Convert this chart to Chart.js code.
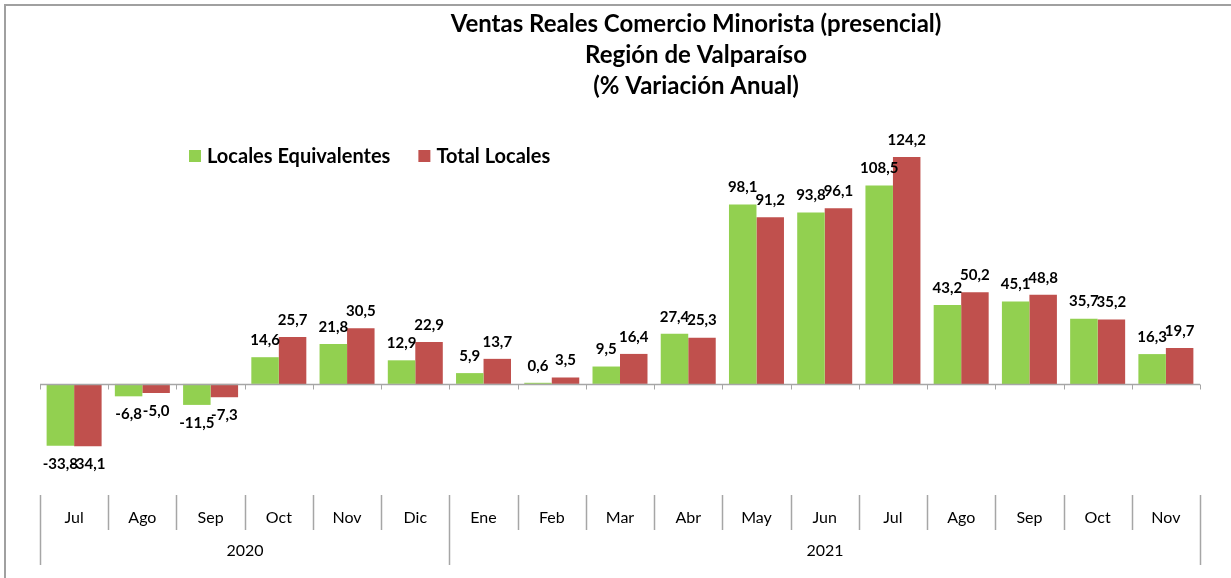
<!DOCTYPE html>
<html><head><meta charset="utf-8">
<script src="https://cdn.jsdelivr.net/npm/chart.js@4.4.0/dist/chart.umd.min.js"></script>
<style>html,body{margin:0;padding:0;background:#fff}#wrap{width:1231px;height:578px;position:relative}</style>
</head><body><div id="wrap"><canvas id="c" width="1231" height="578"></canvas></div>
<script>
const months = ['Jul','Ago','Sep','Oct','Nov','Dic','Ene','Feb','Mar','Abr','May','Jun','Jul','Ago','Sep','Oct','Nov'];
const yearLabels = ['2020','2021'];
const yearCounts = [6, 11];
const seriesNames = ['Locales Equivalentes','Total Locales'];
const equivalentes = [-33.8,-6.8,-11.5,14.6,21.8,12.9,5.9,0.6,9.5,27.4,98.1,93.8,108.5,43.2,45.1,35.7,16.3];
const totales = [-34.1,-5.0,-7.3,25.7,30.5,22.9,13.7,3.5,16.4,25.3,91.2,96.1,124.2,50.2,48.8,35.2,19.7];
const titleLines = ['Ventas Reales Comercio Minorista (presencial)','Región de Valparaíso','(% Variación Anual)'];
const colors = ['#92D050','#C0504D'];

const FONT = 'Lato, "Open Sans", sans-serif';
const GRAY = '#A6A6A6';

function fmt(v){ return v.toFixed(1).replace('.',','); }

const decor = {
  id:'decor',
  afterDatasetsDraw(chart){
    const ctx = chart.ctx, x = chart.scales.x, y = chart.scales.y;
    const area = chart.chartArea;
    const y0 = Math.round(y.getPixelForValue(0)) + 0.5;
    const n = months.length;
    const step = (area.right - area.left) / n;
    const bx = i => Math.round(area.left + i*step) + 0.5;
    ctx.save();
    // zero axis line
    ctx.strokeStyle = GRAY; ctx.lineWidth = 1.5;
    ctx.beginPath(); ctx.moveTo(area.left, y0); ctx.lineTo(area.right, y0); ctx.stroke();
    ctx.lineWidth = 1;
    ctx.beginPath();
    for(let i=0;i<=n;i++){ ctx.moveTo(bx(i), y0); ctx.lineTo(bx(i), y0+5); }
    ctx.stroke();
    // category separators
    const sTop = 495, sMid = 530, sBot = 565;
    const yearBounds = [0]; yearCounts.forEach(c=>yearBounds.push(yearBounds[yearBounds.length-1]+c));
    ctx.strokeStyle = GRAY; ctx.lineWidth = 1.5;
    ctx.beginPath();
    for(let i=0;i<=n;i++){
      const isYear = yearBounds.includes(i);
      ctx.moveTo(bx(i), sTop); ctx.lineTo(bx(i), isYear ? sBot : sMid);
    }
    ctx.stroke();
    // month labels
    ctx.fillStyle = '#000'; ctx.textAlign='center'; ctx.textBaseline='middle';
    ctx.font = '16px ' + FONT;
    months.forEach((m,i)=>ctx.fillText(m, x.getPixelForValue(i), 518));
    yearLabels.forEach((yl,k)=>{
      const cx = (bx(yearBounds[k]) + bx(yearBounds[k+1]))/2;
      ctx.fillText(yl, cx, 551);
    });
    // data labels
    ctx.font = 'bold 15px ' + FONT;
    chart.data.datasets.forEach((ds,di)=>{
      const meta = chart.getDatasetMeta(di);
      meta.data.forEach((bar,i)=>{
        const v = ds.data[i];
        const ty = v >= 0 ? bar.y - 17 : bar.y + 18;
        ctx.fillText(fmt(v), bar.x, ty);
      });
    });
    ctx.restore();
  },
  afterDraw(chart){
    const ctx = chart.ctx;
    ctx.save();
    // frame
    ctx.strokeStyle = '#A0A0A0'; ctx.lineWidth = 2;
    ctx.beginPath(); ctx.moveTo(5, 578); ctx.lineTo(5, 5); ctx.lineTo(1231, 5); ctx.stroke();
    // title
    ctx.fillStyle = '#000'; ctx.textAlign='center'; ctx.textBaseline='middle';
    ctx.font = 'bold 24px ' + FONT;
    titleLines.forEach((t,i)=>ctx.fillText(t, 696, 24 + i*31));
    // legend
    ctx.font = 'bold 20px ' + FONT;
    ctx.textAlign = 'left';
    let lx = 189; const ly = 156;
    seriesNames.forEach((s,i)=>{
      ctx.fillStyle = colors[i];
      ctx.fillRect(lx, ly-6, 12, 12);
      ctx.fillStyle = '#000';
      ctx.fillText(s, lx+18, ly+1);
      lx += 18 + ctx.measureText(s).width + 28;
    });
    ctx.restore();
  }
};

function build(){
  new Chart(document.getElementById('c'), {
    type:'bar',
    data:{
      labels: months,
      datasets:[
        {label:seriesNames[0], data:equivalentes, backgroundColor:colors[0], borderWidth:0, categoryPercentage:0.806, barPercentage:1.0},
        {label:seriesNames[1], data:totales, backgroundColor:colors[1], borderWidth:0, categoryPercentage:0.806, barPercentage:1.0}
      ]
    },
    options:{
      responsive:false, animation:false, devicePixelRatio:1,
      layout:{padding:{left:40, right:31, top:128, bottom:121}},
      plugins:{legend:{display:false}, title:{display:false}, tooltip:{enabled:false}},
      scales:{
        x:{display:false, offset:true},
        y:{display:false, min:-40, max:140}
      }
    },
    plugins:[decor]
  });
}
if (document.fonts && document.fonts.load) {
  Promise.all([document.fonts.load('bold 20px Lato'), document.fonts.load('15px Lato')]).then(build, build);
} else build();
</script>
</body></html>
